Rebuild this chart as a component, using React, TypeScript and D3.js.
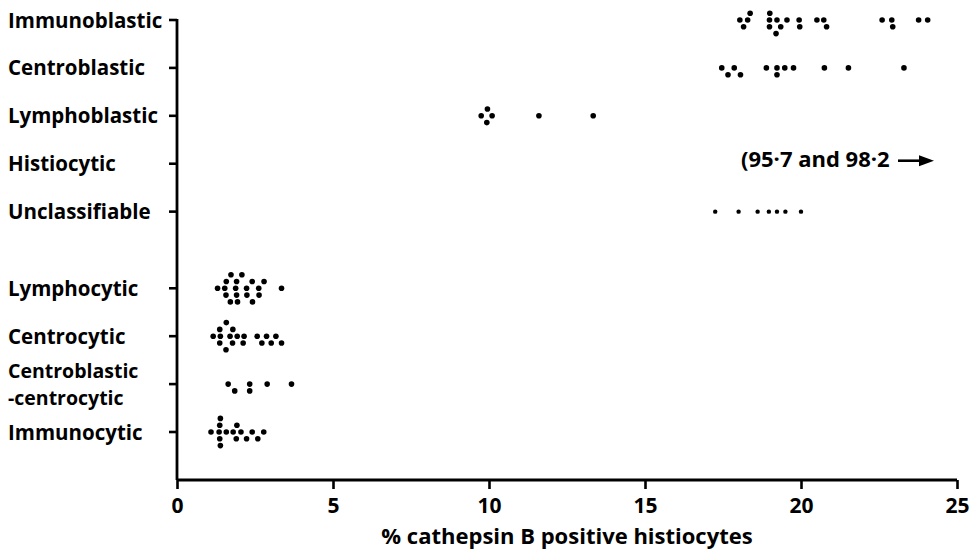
import React, { useEffect, useRef } from 'react'
import * as d3 from 'd3'

// categories, top to bottom; the last four sit below a gap
const categories = [
  'Immunoblastic',
  'Centroblastic',
  'Lymphoblastic',
  'Histiocytic',
  'Unclassifiable',
  'Lymphocytic',
  'Centrocytic',
  'Centroblastic|-centrocytic',
  'Immunocytic',
]
const lowGrade = ['Lymphocytic', 'Centrocytic', 'Centroblastic|-centrocytic', 'Immunocytic']

// % cathepsin B positive histiocytes, one value per case
const immunoblastic = [18.04, 18.16, 18.29, 18.37, 18.99, 18.99, 19.0, 19.2, 19.23, 19.35, 19.55, 19.94, 19.96, 20.51, 20.73, 20.82, 22.6, 22.91, 22.94, 23.77, 24.06]
const centroblastic = [17.46, 17.66, 17.86, 18.06, 18.89, 19.23, 19.23, 19.48, 19.76, 20.75, 21.52, 23.3]
const lymphoblastic = [9.75, 9.93, 9.95, 10.1, 11.6, 13.34]
const histiocytic: number[] = [] // 95.7 and 98.2, off scale
const unclassifiable = [17.25, 18.0, 18.61, 18.97, 19.23, 19.5, 20.0]
const lymphocytic = [1.3, 1.53, 1.57, 1.58, 1.71, 1.73, 1.88, 1.91, 1.91, 1.94, 2.08, 2.23, 2.24, 2.41, 2.42, 2.62, 2.63, 2.79, 3.35]
const centrocytic = [1.16, 1.37, 1.37, 1.39, 1.57, 1.58, 1.7, 1.78, 1.79, 1.93, 2.12, 2.15, 2.57, 2.72, 2.87, 3.02, 3.17, 3.35]
const cbcc = [1.64, 1.85, 2.33, 2.33, 2.89, 3.67]
const immunocytic = [1.09, 1.35, 1.37, 1.37, 1.39, 1.39, 1.58, 1.8, 1.9, 1.92, 2.05, 2.23, 2.41, 2.59, 2.78]

const series = [immunoblastic, centroblastic, lymphoblastic, histiocytic, unclassifiable, lymphocytic, centrocytic, cbcc, immunocytic]

const xTicks = [0, 5, 10, 15, 20, 25]
const offScaleNote = '(95·7 and 98·2'
const xTitle = '% cathepsin B positive histiocytes'

const FONT = '"Open Sans", "DejaVu Sans", sans-serif'

// stack dots that would overlap, alternating below / above the row line
function dodge(xs: number[], gap: number) {
  const placed: { x: number; dy: number }[] = []
  xs.slice().sort((a, b) => a - b).forEach(x => {
    for (let k = 0; k < 20; k++) {
      const dy = k === 0 ? 0 : (k % 2 ? 1 : -1) * Math.ceil(k / 2) * gap
      const hit = placed.some(p => Math.hypot(p.x - x, p.dy - dy) < gap)
      if (!hit) { placed.push({ x, dy }); break }
    }
  })
  return placed
}

export default function App() {
  const ref = useRef<SVGSVGElement>(null)

  useEffect(() => {
    const width = 970, height = 549
    const svg = d3.select(ref.current)
    svg.selectAll('*').remove()

    const x = d3.scaleLinear().domain([0, 25]).range([177, 957])
    const slot = (c: string) => categories.indexOf(c) + (lowGrade.includes(c) ? 0.6 : 0)
    const y = d3.scaleLinear().domain([0, 8.6]).range([20, 432])
    const axisY = 480

    // y axis
    svg.append('line')
      .attr('x1', 177).attr('x2', 177).attr('y1', y(0) - 1).attr('y2', axisY)
      .attr('stroke', '#000').attr('stroke-width', 2.8)
    categories.forEach(c => {
      const cy = y(slot(c))
      svg.append('line')
        .attr('x1', 169).attr('x2', 177).attr('y1', cy).attr('y2', cy)
        .attr('stroke', '#000').attr('stroke-width', 2.6)
      const lines = c.split('|')
      lines.forEach((l, i) => {
        svg.append('text')
          .attr('x', 8).attr('font-family', FONT).attr('font-weight', 700)
          .attr('font-size', lines.length > 1 ? 19.5 : 20.5).attr('fill', '#000')
          .attr('y', cy + 7.5 + (i - (lines.length - 1) / 2) * 26.5)
          .text(l)
      })
    })

    // x axis
    const xAxis = d3.axisBottom(x).tickValues(xTicks).tickSize(9).tickSizeOuter(0).tickFormat(d3.format('d'))
    const g = svg.append('g').attr('transform', `translate(0,${axisY})`).call(xAxis)
    g.select('.domain').attr('stroke-width', 2.8).attr('d', `M177,0H${x(25)}`)
    g.selectAll('.tick line').attr('stroke-width', 2.6)
    g.selectAll('.tick text')
      .attr('font-family', FONT).attr('font-weight', 700).attr('font-size', 21)
      .attr('y', 18).attr('dy', '0.71em')
    svg.append('text')
      .attr('x', (x(0) + x(25)) / 2).attr('y', 544).attr('text-anchor', 'middle')
      .attr('font-family', FONT).attr('font-weight', 700).attr('font-size', 22)
      .text(xTitle)

    // dots
    series.forEach((vals, i) => {
      const c = categories[i]
      const cy = y(slot(c))
      const r = c === 'Unclassifiable' ? 2.2 : 2.8
      const pts = dodge(vals.map(v => x(v)), 6.8)
      svg.append('g').selectAll('circle').data(pts).join('circle')
        .attr('cx', d => d.x).attr('cy', d => cy + d.dy).attr('r', r).attr('fill', '#000')
    })

    // off-scale note for histiocytic
    const hy = y(slot('Histiocytic'))
    svg.append('text')
      .attr('x', 741).attr('y', hy + 3).attr('font-family', FONT).attr('font-weight', 700)
      .attr('font-size', 22).text(offScaleNote)
    svg.append('line')
      .attr('x1', 898).attr('x2', 922).attr('y1', hy - 3).attr('y2', hy - 3)
      .attr('stroke', '#000').attr('stroke-width', 2.6)
    svg.append('path')
      .attr('d', `M919,${hy - 8.5}L934,${hy - 3}L919,${hy + 2.5}Z`).attr('fill', '#000')

    svg.attr('width', width).attr('height', height)
  }, [])

  return <svg ref={ref} style={{ position: 'absolute', left: 0, top: 0, background: '#fff' }} />
}
